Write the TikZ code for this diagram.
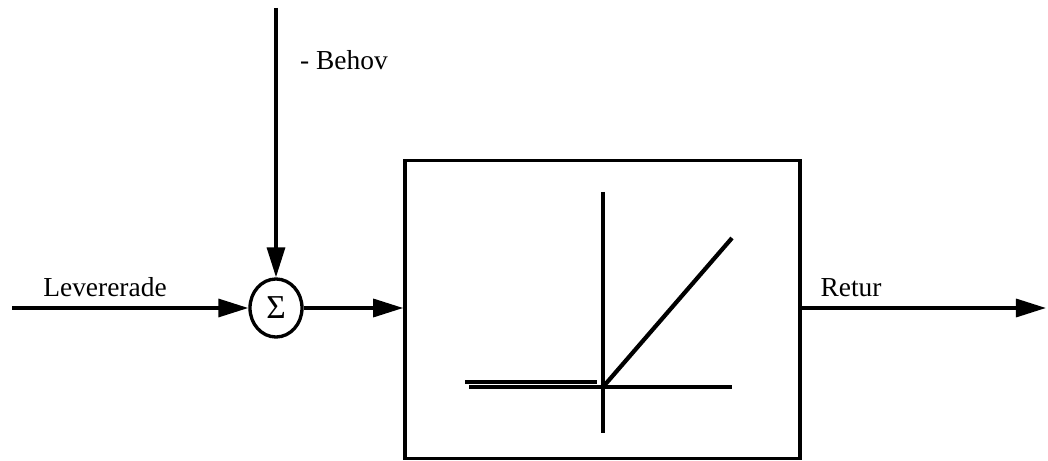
\documentclass[tikz,border=0pt]{standalone}
\usepackage{fontspec}
\setmainfont{Liberation Serif}
\usetikzlibrary{arrows.meta,shapes.geometric}
\begin{document}
\begin{tikzpicture}[x=0.01cm, y=-0.01cm, line width=0.95pt,
    pil/.style={-{Triangle[length=0.3cm, width=0.18cm]}},
    etikett/.style={font=\fontsize{7.8}{9}\selectfont, inner sep=0pt}]
    \useasboundingbox (0,0) rectangle (1048,461);

    % Summationspunkt och block
    \node[draw, ellipse, minimum width=0.52cm, minimum height=0.58cm, inner sep=0pt,
          font=\fontsize{9.5}{11}\selectfont] (sum) at (276,308) {Σ};
    \node[draw, rectangle, minimum width=3.95cm, minimum height=2.98cm, inner sep=0pt] (block) at (602.5,309.5) {};

    % Insignaler
    \coordinate (in) at (12,308);
    \coordinate (behov) at (276,8);
    \draw[pil] (in) -- (sum.west);
    \node[etikett] (lev) at (105,287) {Levererade};
    \draw[pil] (behov) -- (sum.north);
    \node[etikett] (beh) at (344,60) {- Behov};

    % Mellan summa och block
    \draw[pil] (sum.east) -- (block.west |- sum.east);

    % Utsignal
    \coordinate (ut) at (1046,308);
    \draw[pil] (block.east |- ut) -- (ut);
    \node[etikett] (retur) at (851,288) {Retur};

    % Karakteristik i blocket
    \coordinate (o) at (603,387);
    \draw (603,192) -- (603,433);
    \draw (469,387) -- (732,387);
    \draw (465,382) -- (597,382);
    \draw[line width=1.2pt] (o) -- (732,238);
\end{tikzpicture}
\end{document}
